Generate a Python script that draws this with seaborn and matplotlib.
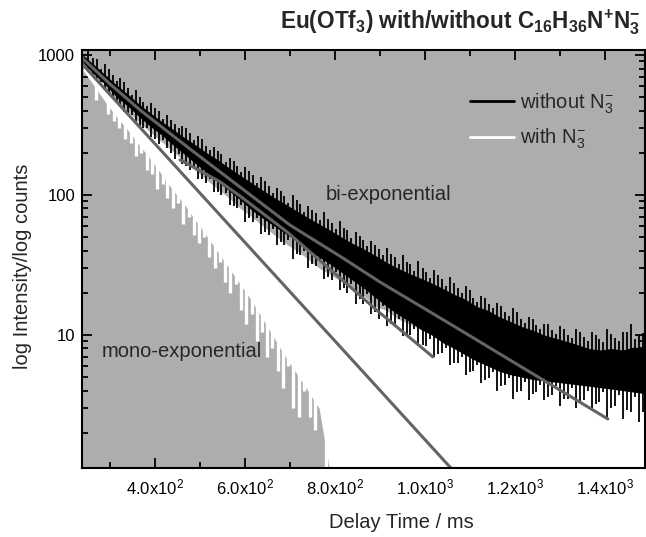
import matplotlib
matplotlib.use("Agg")
import matplotlib.pyplot as plt
import seaborn as sns
from matplotlib.lines import Line2D
from matplotlib.ticker import FixedLocator, LogLocator, NullFormatter

# ---------------- data ----------------
delay_ms = [240, 265, 290, 315, 340, 365, 390, 415, 440, 465,
            490, 515, 540, 565, 590, 615, 640, 665, 690, 715,
            740, 765, 790, 815, 840, 865, 890, 915, 940, 965,
            990, 1015, 1040, 1065, 1090, 1115, 1140, 1165, 1190, 1215,
            1240, 1265, 1290, 1315, 1340, 1365, 1390, 1415, 1440, 1465,
            1490]

# trace "without N3-": bulk of the noisy counts (upper / lower)
without_hi = [1000, 850, 720, 610, 525, 445, 385, 335, 295, 258,
              228, 200, 178, 156, 138, 122, 108, 96, 86, 77,
              69, 62, 56, 50, 45, 41, 37, 33, 30, 27.5,
              25.5, 23.5, 21.5, 19.5, 18, 16, 15, 13.5, 12.5, 11.5,
              10.8, 10, 9.5, 9, 8.5, 8, 7.8, 8, 7.8, 8.2,
              8]
without_lo = [880, 730, 610, 500, 430, 362, 308, 268, 228, 196,
              168, 145, 124, 107, 92, 78, 68, 60, 53, 47,
              41, 36, 32, 28, 24.5, 21.5, 18.5, 16, 14, 12.5,
              11, 10, 8.8, 8, 7.2, 6.5, 6, 5.5, 5.2, 5,
              4.8, 4.7, 4.6, 4.5, 4.4, 4.3, 4.2, 4.1, 4, 3.9,
              3.8]
# individual noise excursions of "without N3-" (two interleaved sets)
without_spike_t = [252, 271, 288, 306, 323, 341, 357, 374, 392, 409,
                   426, 444, 461, 479, 496, 513, 531, 548, 566, 583,
                   601, 618, 636, 653, 671, 688, 706, 723, 741, 758,
                   776, 793, 811, 828, 846, 863, 881, 898, 916, 933,
                   951, 968, 986, 1003, 1021, 1038, 1056, 1073, 1091, 1108,
                   1126, 1143, 1161, 1178, 1196, 1213, 1231, 1248, 1266, 1283,
                   1301, 1318, 1336, 1353, 1371, 1388, 1406, 1423, 1441, 1458,
                   1476]
without_spike_hi = [1060, 930, 860, 720, 690, 580, 560, 460, 450, 395,
                    370, 320, 310, 275, 265, 225, 220, 195, 185, 162,
                    158, 138, 135, 116, 112, 98, 100, 86, 84, 74,
                    75, 63, 65, 56, 54, 48, 47, 41, 42, 36,
                    37, 32, 34, 28, 29, 25, 26, 21.5, 22.5, 18.5,
                    19, 16.5, 17, 14.5, 15.5, 13, 13.5, 11.8, 12, 10.8,
                    11.5, 10, 11, 9.6, 10.5, 9.3, 11, 9.5, 10.5, 12,
                    10]
without_spike_lo = [800, 680, 570, 490, 425, 370, 320, 300, 260, 230,
                    215, 180, 165, 150, 130, 122, 105, 100, 85, 80,
                    64, 64, 53, 52, 44, 44, 35, 37, 30, 31,
                    25, 24.5, 21, 20, 16.5, 16.5, 14, 13, 11.5, 11.5,
                    9.8, 10, 8.3, 8.3, 7, 7.4, 6.1, 6.3, 5.2, 5.5,
                    4.5, 4.9, 4, 4.4, 3.5, 4, 3.4, 3.9, 3.4, 3.7,
                    3.1, 3.5, 3, 3.4, 3, 3.3, 2.6, 3.1, 2.5, 2.8,
                    2.4]
without_spike2_t = [262, 280, 297, 315, 332, 350, 366, 383, 400, 418,
                    435, 453, 470, 488, 505, 522, 540, 557, 575, 592,
                    610, 627, 645, 662, 680, 697, 715, 732, 750, 767,
                    785, 802, 820, 837, 855, 872, 890, 907, 925, 942,
                    960, 977, 995, 1012, 1030, 1047, 1065, 1082, 1100, 1117,
                    1135, 1152, 1170, 1187, 1205, 1222, 1240, 1257, 1275, 1292,
                    1310, 1327, 1345, 1362, 1380, 1397, 1415, 1432, 1450, 1467,
                    1485]
without_spike2_hi = [950, 800, 790, 650, 640, 520, 500, 430, 420, 350,
                     345, 300, 300, 245, 250, 210, 205, 172, 175, 145,
                     148, 122, 125, 104, 106, 88, 92, 76, 78, 66,
                     67, 57, 58, 49, 51, 43, 44, 37, 38, 32,
                     33, 28.5, 30, 25.5, 27, 22.5, 23.5, 20, 21, 17.2,
                     18.5, 15.5, 16, 13.6, 14.5, 12.2, 13, 11, 12, 10.2,
                     11, 9.5, 10.5, 9.1, 10, 8.9, 10.2, 9, 10.5, 9.3,
                     10.3]
without_spike2_lo = [700, 640, 520, 470, 390, 375, 310, 300, 250, 245,
                     200, 195, 160, 160, 130, 130, 105, 104, 84, 85,
                     68, 68, 54, 57, 46, 48, 38, 40, 32, 33,
                     26, 28, 21.5, 23, 18, 19.5, 14.5, 16, 12, 13,
                     10, 11, 8.5, 9.4, 7.3, 8, 6.3, 7, 5.4, 6.1,
                     4.8, 5.4, 4.3, 4.9, 3.9, 4.6, 3.8, 4.4, 3.6, 4.3,
                     3.5, 4.2, 3.3, 4, 3.2, 3.9, 3, 3.7, 2.9, 3.6,
                     2.8]

# trace "with N3-": bulk of the counts (upper / lower)
with_hi = [880, 700, 560, 470, 395, 330, 280, 240, 205, 175,
           150, 128, 110, 95, 80, 70, 60, 52, 45, 40,
           35, 30, 27, 24, 21, 19, 16, 15, 13, 12,
           11, 10, 9, 9, 8, 9, 7, 8, 12, 7,
           9, 6, 7, 5, 6, 5, 4.5, 5, 4, 4.5,
           4]
with_lo = [780, 600, 460, 360, 290, 228, 180, 140, 108, 86,
           66, 51, 39, 30, 23, 17.5, 13, 9.5, 7, 5.3,
           4, 3, 1.0, 1.0, 1.0, 1.0, 1.0, 1.0, 1.0, 1.0,
           1.0, 1.0, 1.0, 1.0, 1.0, 1.0, 1.0, 1.0, 1.0, 1.0,
           1.0, 1.0, 1.0, 1.0, 1.0, 1.0, 1.0, 1.0, 1.0, 1.0,
           1.0]
# downward noise excursions of "with N3-"
with_spike_t = [270, 282, 296, 309, 321, 333, 346, 358, 370, 382,
                394, 405, 417, 428, 440, 452, 463, 475, 487, 498,
                510, 521, 533, 545, 556, 568, 580, 591, 603, 615,
                626, 638, 650, 661, 673, 685, 697, 708, 720, 732,
                744, 756, 768, 780]
with_spike_lo = [480, 520, 380, 340, 300, 250, 235, 190, 200, 150,
                 140, 110, 120, 95, 80, 88, 62, 70, 52, 45,
                 50, 36, 30, 33, 24, 20, 23, 15, 12, 14,
                 9, 10.5, 7, 8, 5.5, 4.2, 6, 3.0, 2.6, 4,
                 2.6, 2.1, 3.2, 1.0]
with_spike_hi = [600, 640, 470, 440, 380, 330, 300, 260, 250, 215,
                 190, 170, 160, 140, 125, 115, 105, 95, 85, 78,
                 70, 62, 55, 50, 45, 40, 36, 32, 28, 26,
                 23, 21, 19, 17, 15, 14, 12, 11, 10, 9,
                 8, 7.5, 7, 6]

# fitted curves
fit_bi_t = [238, 300, 367, 478, 589, 700, 811, 900, 1056, 1189, 1407]
fit_bi_y = [952, 621, 404, 213, 114, 61, 36.6, 23.9, 12.0, 6.63, 2.51]
fit_mono_t = [238, 1058]
fit_mono_y = [863, 1.12]
fit_mid_t = [456, 545, 589, 694, 900, 1018]
fit_mid_y = [178, 124, 98.4, 54.4, 14.4, 6.97]

x_ticks = [400, 600, 800, 1000, 1200, 1400]
x_tick_labels = ["4.0x10$^{2}$", "6.0x10$^{2}$", "8.0x10$^{2}$",
                 "1.0x10$^{3}$", "1.2x10$^{3}$", "1.4x10$^{3}$"]
x_minor = [300, 500, 700, 900, 1100, 1300]
y_ticks = [10, 100, 1000]
y_tick_labels = ["10", "100", "1000"]

legend_labels = ["without N$_3^{-}$", "with N$_3^{-}$"]
title_text = "Eu(OTf$_3$) with/without C$_{16}$H$_{36}$N$^{+}$N$_3^{-}$"

# ---------------- style ----------------
BG = "#adadad"
FIT = "#646464"
sns.set_style("ticks", {"axes.facecolor": BG, "axes.edgecolor": "black",
                        "xtick.direction": "in", "ytick.direction": "in"})
plt.rcParams["font.family"] = ["Liberation Sans", "DejaVu Sans"]
plt.rcParams["mathtext.default"] = "regular"

fig = plt.figure(figsize=(6.46, 5.37), dpi=100)
ax = fig.add_axes([0.127, 0.1285, 0.871, 0.7785])
ax.set_yscale("log")

# "with N3-" (white) underneath
ax.fill_between(delay_ms, with_lo, with_hi, color="white", lw=0, zorder=2)
ax.vlines(with_spike_t, with_spike_lo, with_spike_hi, color="white",
          lw=2.4, zorder=2)
# "without N3-" (black) on top
ax.fill_between(delay_ms, without_lo, without_hi, color="black", lw=0,
                zorder=3)
ax.vlines(without_spike_t, without_spike_lo, without_spike_hi, color="black",
          lw=1.3, zorder=3)
ax.vlines(without_spike2_t, without_spike2_lo, without_spike2_hi,
          color="black", lw=1.3, zorder=3)

sns.lineplot(x=fit_bi_t, y=fit_bi_y, ax=ax, color=FIT, lw=2.2, zorder=5)
sns.lineplot(x=fit_mono_t, y=fit_mono_y, ax=ax, color=FIT, lw=2.2, zorder=5)
sns.lineplot(x=fit_mid_t, y=fit_mid_y, ax=ax, color=FIT, lw=2.2, zorder=4)

ax.set_xlim(238, 1489)
ax.set_ylim(1.12, 1086)

ax.xaxis.set_major_locator(FixedLocator(x_ticks))
ax.set_xticklabels(x_tick_labels)
ax.xaxis.set_minor_locator(FixedLocator(x_minor))
ax.yaxis.set_major_locator(FixedLocator(y_ticks))
ax.set_yticklabels(y_tick_labels)
ax.yaxis.set_minor_locator(LogLocator(base=10, subs=range(2, 10)))
ax.yaxis.set_minor_formatter(NullFormatter())

ax.tick_params(which="both", direction="in", top=True, right=True,
               colors="black", width=1.3)
ax.tick_params(which="major", length=7, labelsize=12, pad=5)
ax.tick_params(which="minor", length=4)
ax.tick_params(axis="x", which="major", pad=7)
for s in ax.spines.values():
    s.set_linewidth(1.5)
    s.set_color("black")
    s.set_zorder(6)

ax.set_xlabel("Delay Time / ms", fontsize=14.5)
ax.xaxis.set_label_coords(0.567, -0.108)
ax.set_ylabel("log Intensity/log counts", fontsize=14.5)
ax.yaxis.set_label_coords(-0.089, 0.483)

ax.text(780, 100, "bi-exponential", fontsize=14.5, va="center", ha="left",
        zorder=6)
ax.text(282, 7.6, "mono-exponential", fontsize=14.5, va="center", ha="left",
        zorder=6)

handles = [Line2D([], [], color="black", lw=2),
           Line2D([], [], color="white", lw=2)]
ax.legend(handles, legend_labels, loc="upper left",
          bbox_to_anchor=(0.657, 0.945), frameon=False, fontsize=14.5,
          handlelength=2.2, handletextpad=0.3, labelspacing=0.55)

fig.text(0.992, 0.958, title_text, ha="right", va="center", fontsize=16.3,
         fontweight="bold")

fig.savefig("out.png", dpi=100)
